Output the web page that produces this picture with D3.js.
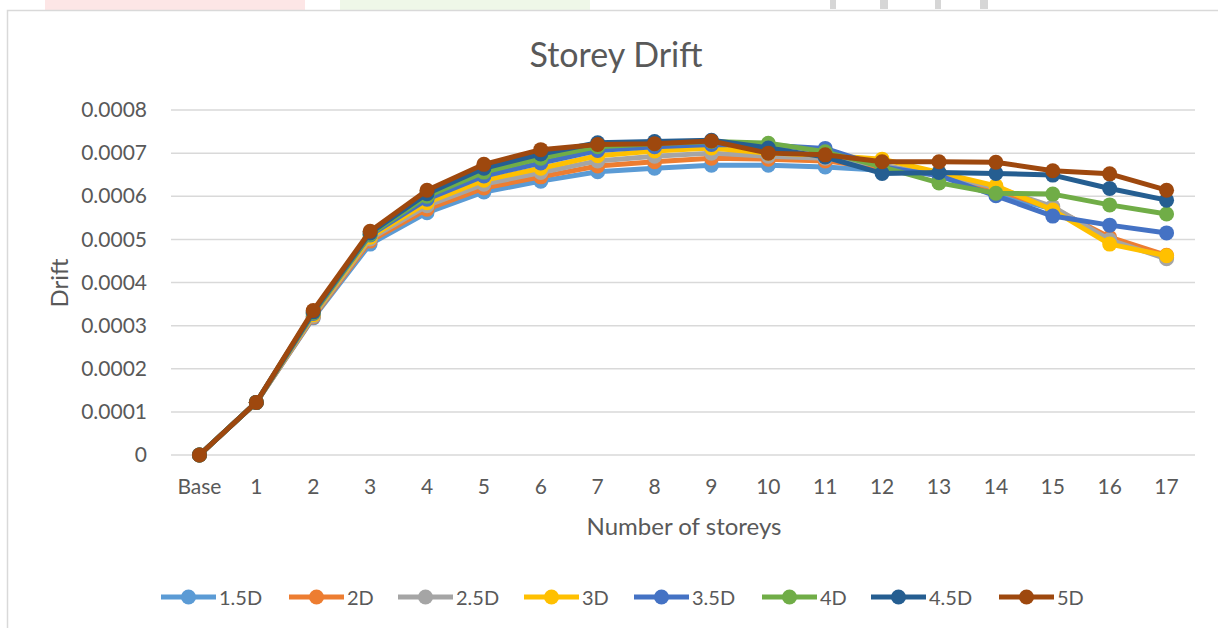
<!DOCTYPE html>
<html><head><meta charset="utf-8">
<script src="https://cdn.jsdelivr.net/npm/d3@7/dist/d3.min.js"></script>
<style>
html,body{margin:0;padding:0;background:#fff;}
svg{display:block;font-family:Lato,"Open Sans",sans-serif;}
</style></head>
<body>
<svg id="chart" width="1218" height="628"></svg>
<script>
const categories = ["Base","1","2","3","4","5","6","7","8","9","10","11","12","13","14","15","16","17"];
const seriesNames = ["1.5D","2D","2.5D","3D","3.5D","4D","4.5D","5D"];
const seriesColors = ["#5B9BD5","#ED7D31","#A5A5A5","#FFC000","#4472C4","#70AD47","#255E91","#9E480E"];
const yTicks = [0,0.0001,0.0002,0.0003,0.0004,0.0005,0.0006,0.0007,0.0008];
const yTickLabels = ["0","0.0001","0.0002","0.0003","0.0004","0.0005","0.0006","0.0007","0.0008"];

const d15 = [0,0.000122,0.000318,0.000489,0.000562,0.000610,0.000635,0.000657,0.000665,0.000672,0.000672,0.000668,0.000660,0.000650,0.000605,0.000570,0.000500,0.000458];
const d20 = [0,0.000122,0.000320,0.000496,0.000570,0.000619,0.000645,0.000670,0.000680,0.000688,0.000686,0.000682,0.000665,0.000650,0.000615,0.000572,0.000505,0.000463];
const d25 = [0,0.000122,0.000322,0.000501,0.000578,0.000628,0.000655,0.000682,0.000693,0.000700,0.000693,0.000688,0.000672,0.000650,0.000620,0.000576,0.000499,0.000455];
const d30 = [0,0.000122,0.000325,0.000505,0.000585,0.000637,0.000665,0.000694,0.000705,0.000712,0.000700,0.000695,0.000686,0.000655,0.000624,0.000568,0.000489,0.000462];
const d35 = [0,0.000122,0.000328,0.000510,0.000593,0.000647,0.000677,0.000706,0.000715,0.000720,0.000718,0.000711,0.000668,0.000648,0.000601,0.000554,0.000533,0.000515];
const d40 = [0,0.000122,0.000330,0.000512,0.000600,0.000656,0.000688,0.000715,0.000722,0.000727,0.000723,0.000703,0.000668,0.000631,0.000607,0.000605,0.000580,0.000559];
const d45 = [0,0.000122,0.000332,0.000515,0.000606,0.000665,0.000698,0.000724,0.000727,0.000730,0.000712,0.000691,0.000653,0.000655,0.000653,0.000649,0.000618,0.000591];
const d50 = [0,0.000122,0.000335,0.000519,0.000614,0.000674,0.000708,0.000720,0.000722,0.000728,0.000700,0.000696,0.000680,0.000680,0.000679,0.000659,0.000652,0.000614];
const seriesValues = [d15,d20,d25,d30,d35,d40,d45,d50];

const svg = d3.select("#chart");
const W = 1218, H = 628;
const plot = {left:171, right:1195, top:110, bottom:455};

// faint scan watermark at the top edge
const wm = svg.append("g");
wm.append("rect").attr("x",45).attr("y",0).attr("width",260).attr("height",10).attr("fill","#fde6e6");
wm.append("rect").attr("x",340).attr("y",0).attr("width",250).attr("height",10).attr("fill","#eff7e8");
[[830,6],[880,8],[935,6],[980,8]].forEach(([x,w])=>wm.append("rect").attr("x",x).attr("y",0).attr("width",w).attr("height",9).attr("fill","#d6d6d6"));

// chart frame
svg.append("path").attr("d",`M7.5,${H} L7.5,10.5 L${W},10.5`).attr("fill","none").attr("stroke","#d9d9d9").attr("stroke-width",1.5);

const x = d3.scaleBand().domain(categories).range([plot.left, plot.right]);
const y = d3.scaleLinear().domain([0,0.0008]).range([plot.bottom, plot.top]);

// gridlines
svg.append("g").selectAll("line").data(yTicks).join("line")
  .attr("x1",plot.left).attr("x2",plot.right)
  .attr("y1",d=>y(d)).attr("y2",d=>y(d))
  .attr("stroke","#d9d9d9").attr("stroke-width",1.5);

// y axis
const yAxis = d3.axisLeft(y).tickValues(yTicks).tickFormat((d,i)=>yTickLabels[i]).tickSize(0).tickPadding(24);
const gy = svg.append("g").attr("transform",`translate(${plot.left},0)`).call(yAxis);
gy.select(".domain").remove();
gy.selectAll("text").attr("font-size",21).attr("fill","#595959").attr("font-family","Lato,sans-serif");

// x axis
const xAxis = d3.axisBottom(x).tickSize(0).tickPadding(24);
const gx = svg.append("g").attr("transform",`translate(0,${plot.bottom})`).call(xAxis);
gx.select(".domain").remove();
gx.selectAll("text").attr("font-size",21).attr("fill","#595959").attr("font-family","Lato,sans-serif");

// titles
svg.append("text").attr("x",616).attr("y",67).attr("text-anchor","middle")
  .attr("font-size",34).attr("fill","#595959").text("Storey Drift");
svg.append("text").attr("transform","translate(68,283) rotate(-90)").attr("text-anchor","middle")
  .attr("font-size",24).attr("fill","#595959").text("Drift");
svg.append("text").attr("x",684).attr("y",535).attr("text-anchor","middle")
  .attr("font-size",24).attr("fill","#595959").text("Number of storeys");

// series
const line = d3.line().x((d,i)=>x(categories[i])+x.bandwidth()/2).y(d=>y(d));
seriesValues.forEach((vals,k)=>{
  const g = svg.append("g");
  g.append("path").datum(vals).attr("d",line).attr("fill","none")
    .attr("stroke",seriesColors[k]).attr("stroke-width",5).attr("stroke-linejoin","round");
  g.selectAll("circle").data(vals).join("circle")
    .attr("cx",(d,i)=>x(categories[i])+x.bandwidth()/2).attr("cy",d=>y(d))
    .attr("r",7.5).attr("fill",seriesColors[k]);
});

// legend
const legX = [161,289,398,524,634,762,871,999];
const legY = 597;
const lg = svg.append("g");
seriesNames.forEach((n,k)=>{
  const gg = lg.append("g").attr("transform",`translate(${legX[k]},${legY})`);
  gg.append("line").attr("x1",0).attr("x2",55).attr("y1",0).attr("y2",0)
    .attr("stroke",seriesColors[k]).attr("stroke-width",5);
  gg.append("circle").attr("cx",27.5).attr("cy",0).attr("r",7.5).attr("fill",seriesColors[k]);
  gg.append("text").attr("x",58).attr("y",7.5).attr("font-size",20).attr("fill","#595959").text(n);
});
</script>
</body></html>
